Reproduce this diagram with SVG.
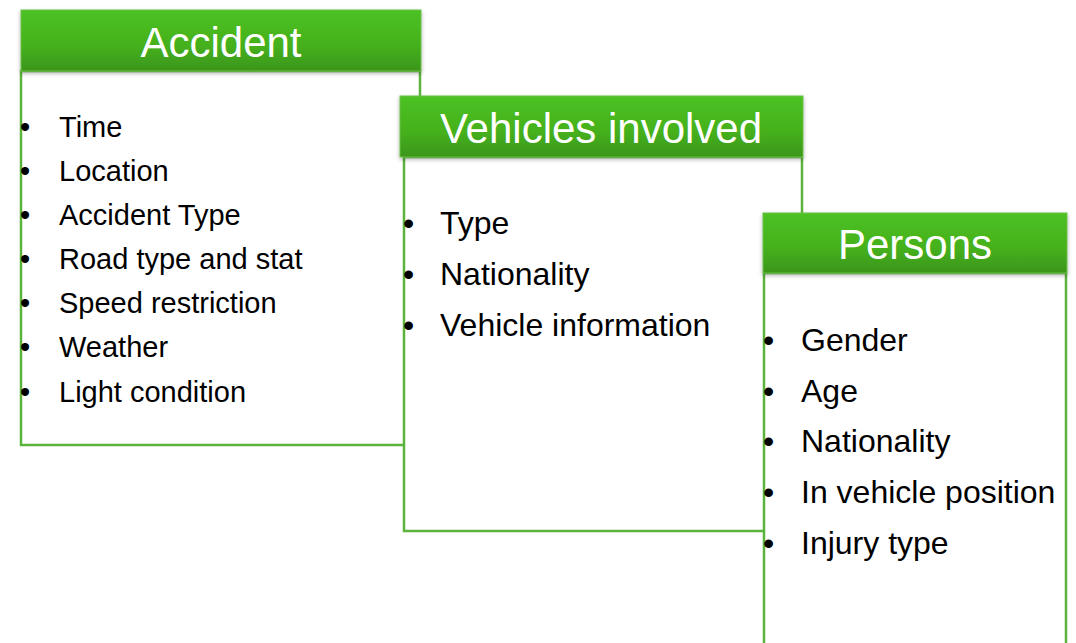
<svg xmlns="http://www.w3.org/2000/svg" width="1076" height="643" viewBox="0 0 1076 643">
  <defs>
    <linearGradient id="hdr" x1="0" y1="0" x2="0" y2="1">
      <stop offset="0" stop-color="#4cc221"/>
      <stop offset="0.6" stop-color="#45b01e"/>
      <stop offset="1" stop-color="#3b9519"/>
    </linearGradient>
    <filter id="sh" x="-5%" y="-10%" width="110%" height="130%">
      <feDropShadow dx="0" dy="2" stdDeviation="2" flood-color="#000" flood-opacity="0.3"/>
    </filter>
  </defs>
  <style>
    .body { fill: #ffffff; stroke: #5cb33c; stroke-width: 2.5; }
    .hdr { fill: url(#hdr); stroke: #6cc04a; stroke-width: 1; filter: url(#sh); }
    .title { font-family: "Liberation Sans", Arial, sans-serif; font-size: 42px; fill: #ffffff; text-anchor: middle; }
    .item { font-family: "Liberation Sans", Arial, sans-serif; fill: #000000; }
    .a { font-size: 29px; }
    .b { font-size: 32px; }
  </style>
  <rect width="1076" height="643" fill="#ffffff"/>
  <g id="connectors"/>
  <g id="accident">
    <rect class="body" x="21" y="71" width="399" height="374"/>
    <rect class="hdr" x="21" y="10" width="400" height="61"/>
    <text class="title" x="221" y="57">Accident</text>
    <g class="item a">
      <text x="20" y="137">•</text><text x="59" y="137">Time</text>
      <text x="20" y="181">•</text><text x="59" y="181">Location</text>
      <text x="20" y="225">•</text><text x="59" y="225">Accident Type</text>
      <text x="20" y="269">•</text><text x="59" y="269">Road type and stat</text>
      <text x="20" y="313">•</text><text x="59" y="313">Speed restriction</text>
      <text x="20" y="357">•</text><text x="59" y="357">Weather</text>
      <text x="20" y="402">•</text><text x="59" y="402">Light condition</text>
    </g>
  </g>
  <g id="vehicles">
    <rect class="body" x="404" y="157" width="398" height="374"/>
    <rect class="hdr" x="400" y="96" width="403" height="61"/>
    <text class="title" x="601" y="143">Vehicles involved</text>
    <g class="item b">
      <text x="403" y="234">•</text><text x="440" y="234">Type</text>
      <text x="403" y="285">•</text><text x="440" y="285">Nationality</text>
      <text x="403" y="336">•</text><text x="440" y="336">Vehicle information</text>
    </g>
  </g>
  <g id="persons">
    <rect class="body" x="764" y="273" width="302" height="390"/>
    <rect class="hdr" x="763" y="213" width="304" height="60"/>
    <text class="title" x="915" y="259">Persons</text>
    <g class="item b">
      <text x="763" y="351">•</text><text x="801" y="351">Gender</text>
      <text x="763" y="402">•</text><text x="801" y="402">Age</text>
      <text x="763" y="452">•</text><text x="801" y="452">Nationality</text>
      <text x="763" y="503">•</text><text x="801" y="503">In vehicle position</text>
      <text x="763" y="554">•</text><text x="801" y="554">Injury type</text>
    </g>
  </g>
</svg>
